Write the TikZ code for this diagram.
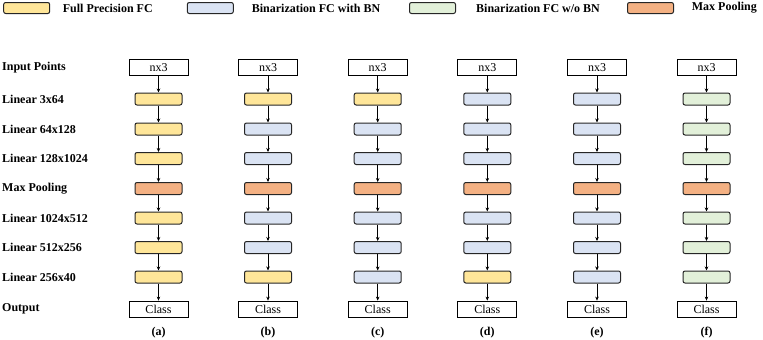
\documentclass[tikz,border=0pt]{standalone}
\usepackage{fontspec}
\setmainfont{Liberation Serif}
\usetikzlibrary{arrows.meta}
\definecolor{fp}{HTML}{FFE699}
\definecolor{bn}{HTML}{DAE3F3}
\definecolor{nb}{HTML}{E2F0D9}
\definecolor{mp}{HTML}{F4B183}
\definecolor{edge}{HTML}{262626}
\begin{document}
\begin{tikzpicture}[x=1pt,y=-1pt,
  layer/.style={draw=edge, line width=1pt, rounded corners=2pt, minimum width=47pt, minimum height=12pt, inner sep=0pt},
  legbox/.style={layer, minimum width=46pt, minimum height=11pt},
  io/.style={draw=black, line width=0.8pt, minimum width=59pt, minimum height=16pt, inner sep=0pt, font=\fontsize{12}{12}\selectfont},
  rowlab/.style={anchor=west, inner sep=0pt, font=\bfseries\fontsize{12}{12}\selectfont},
  leglab/.style={anchor=west, inner sep=0pt, font=\bfseries\fontsize{12}{12}\selectfont},
  collab/.style={font=\bfseries\fontsize{12}{12}\selectfont, inner sep=0pt},
  conn/.style={-{Stealth[length=4pt,width=3.5pt]}, line width=0.6pt, draw=black},
]
\useasboundingbox (0,0) rectangle (763,340);

% legend
\node[legbox, fill=fp] (l1) at (26.7,8) {};
\node[leglab] (t1) at (62.7,8) {Full Precision FC};
\node[legbox, fill=bn] (l2) at (210.3,8) {};
\node[leglab] (t2) at (251.7,8) {Binarization FC with BN};
\node[legbox, fill=nb] (l3) at (432.5,8) {};
\node[leglab] (t3) at (476,8) {Binarization FC w/o BN};
\node[legbox, fill=mp] (l4) at (650.5,8) {};
\node[leglab] (t4) at (691.7,8) {Max Pooling};

% row labels
\node[rowlab] (r0) at (2,67.5) {Input Points};
\node[rowlab] (r1) at (2,99) {Linear 3x64};
\node[rowlab] (r2) at (2,129) {Linear 64x128};
\node[rowlab] (r3) at (2,158.5) {Linear 128x1024};
\node[rowlab] (r4) at (2,188.5) {Max Pooling};
\node[rowlab] (r5) at (2,218) {Linear 1024x512};
\node[rowlab] (r6) at (2,247.5) {Linear 512x256};
\node[rowlab] (r7) at (2,277) {Linear 256x40};
\node[rowlab] (r8) at (2,309) {Output};

% columns
\foreach \c/\x/\fa/\fb/\fc/\fd/\fe/\ff in {
  a/158.5/fp/fp/fp/fp/fp/fp,
  b/268/fp/bn/bn/bn/bn/fp,
  c/377.7/fp/bn/bn/bn/bn/bn,
  d/487.3/bn/bn/bn/bn/bn/fp,
  e/597/bn/bn/bn/bn/bn/bn,
  f/706.5/nb/nb/nb/nb/nb/nb} {
  \node[io] (\c0) at (\x,67.5) {nx3};
  \node[layer, fill=\fa] (\c1) at (\x,99) {};
  \node[layer, fill=\fb] (\c2) at (\x,129) {};
  \node[layer, fill=\fc] (\c3) at (\x,158.5) {};
  \node[layer, fill=mp] (\c4) at (\x,188.5) {};
  \node[layer, fill=\fd] (\c5) at (\x,218) {};
  \node[layer, fill=\fe] (\c6) at (\x,247.5) {};
  \node[layer, fill=\ff] (\c7) at (\x,277) {};
  \node[io] (\c8) at (\x,309) {Class};
  \node[collab] (\c9) at (\x,332.5) {(\c)};
  \foreach \i [count=\j from 1] in {0,...,7}
    \draw[conn] (\c\i) -- (\c\j);
}
\end{tikzpicture}
\end{document}
